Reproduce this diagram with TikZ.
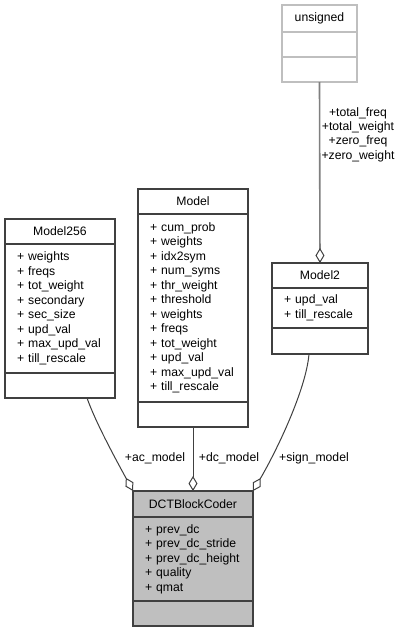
\documentclass[tikz,border=0pt]{standalone}
\usepackage{fontspec}
\setmainfont{Liberation Sans}
\usepackage{tikz}
\usetikzlibrary{arrows.meta,positioning,calc}
\definecolor{boxline}{HTML}{404040}
\definecolor{extline}{HTML}{BFBFBF}
\definecolor{coderfill}{HTML}{BFBFBF}
\definecolor{linkgray}{HTML}{7F7F7F}
\tikzset{
  classhead/.style={
    rectangle, draw=#1, fill=white, line width=1.2pt,
    anchor=north west, inner sep=0pt, outer sep=0pt, align=center,
    font=\fontsize{12.2}{14.5}\selectfont
  },
  classhead/.default=boxline,
  classattr/.style={
    rectangle, draw=#1, fill=white, line width=1.2pt,
    inner xsep=12pt, inner ysep=0pt, outer sep=0pt, align=left,
    font=\fontsize{12.2}{14.5}\selectfont
  },
  classattr/.default=boxline,
  aggr/.style={
    draw=#1, line width=1pt,
    -{Diamond[open, length=15pt, width=9pt, line width=1pt, color=boxline, fill=white]}
  },
  aggr/.default=boxline,
  rolelabel/.style={
    font=\fontsize{12.2}{14.3}\selectfont, inner sep=1pt, align=center
  },
}

\begin{document}
\begin{tikzpicture}[x=1pt, y=1pt]
  \useasboundingbox[fill=white] (0,0) rectangle (403,-632);

  % external type
  \node[classhead=extline, minimum width=75pt, minimum height=27pt] (uns) at (282,-5) {unsigned};
  \node[classattr=extline, below=0pt of uns, text width=51pt, minimum height=25pt] (unsA) {};
  \node[classattr=extline, below=0pt of unsA, text width=51pt, minimum height=25pt] (unsO) {};

  % Model256
  \node[classhead, minimum width=110pt, minimum height=25pt] (m256) at (5,-219) {Model256};
  \node[classattr, below=0pt of m256, text width=86pt, minimum height=129pt] (m256A)
    {+ weights\\+ freqs\\+ tot\_weight\\+ secondary\\+ sec\_size\\+ upd\_val\\+ max\_upd\_val\\+ till\_rescale};
  \node[classattr, below=0pt of m256A, text width=86pt, minimum height=25pt] (m256O) {};

  % Model
  \node[classhead, minimum width=110pt, minimum height=25pt] (mdl) at (138,-189) {Model};
  \node[classattr, below=0pt of mdl, text width=86pt, minimum height=188pt] (mdlA)
    {+ cum\_prob\\+ weights\\+ idx2sym\\+ num\_syms\\+ thr\_weight\\+ threshold\\+ weights\\+ freqs\\+ tot\_weight\\+ upd\_val\\+ max\_upd\_val\\+ till\_rescale};
  \node[classattr, below=0pt of mdlA, text width=86pt, minimum height=25pt] (mdlO) {};

  % Model2
  \node[classhead, minimum width=96pt, minimum height=25pt] (m2) at (272,-263) {Model2};
  \node[classattr, below=0pt of m2, text width=72pt, minimum height=40pt] (m2A)
    {+ upd\_val\\+ till\_rescale};
  \node[classattr, below=0pt of m2A, text width=72pt, minimum height=26pt] (m2O) {};

  % DCTBlockCoder
  \node[classhead, fill=coderfill, minimum width=120pt, minimum height=26pt] (dct) at (133,-491) {DCTBlockCoder};
  \node[classattr, fill=coderfill, below=0pt of dct, text width=96pt, minimum height=84pt] (dctA)
    {+ prev\_dc\\+ prev\_dc\_stride\\+ prev\_dc\_height\\+ quality\\+ qmat};
  \node[classattr, fill=coderfill, below=0pt of dctA, text width=96pt, minimum height=25pt] (dctO) {};

  % members
  \draw[aggr=linkgray, line width=1.6pt] (unsO.south) -- (m2.north);
  \draw[aggr] (mdlO) -- (dct);
  \draw[aggr] ($(m256O.south)+(27,0)$) .. controls (96,-423) and (114,-456) .. (dct.north west);
  \draw[aggr] ($(m2O.south)+(-11,0)$) .. controls (306,-390) and (276,-452) .. (dct.north east);

  \node[rolelabel] (lblU) at (358,-134.5) {+total\_freq\\+total\_weight\\+zero\_freq\\+zero\_weight};
  \node[rolelabel] (lblAc) at (155,-458) {+ac\_model};
  \node[rolelabel] (lblDc) at (229,-458) {+dc\_model};
  \node[rolelabel] (lblSign) at (314,-458) {+sign\_model};
\end{tikzpicture}
\end{document}
